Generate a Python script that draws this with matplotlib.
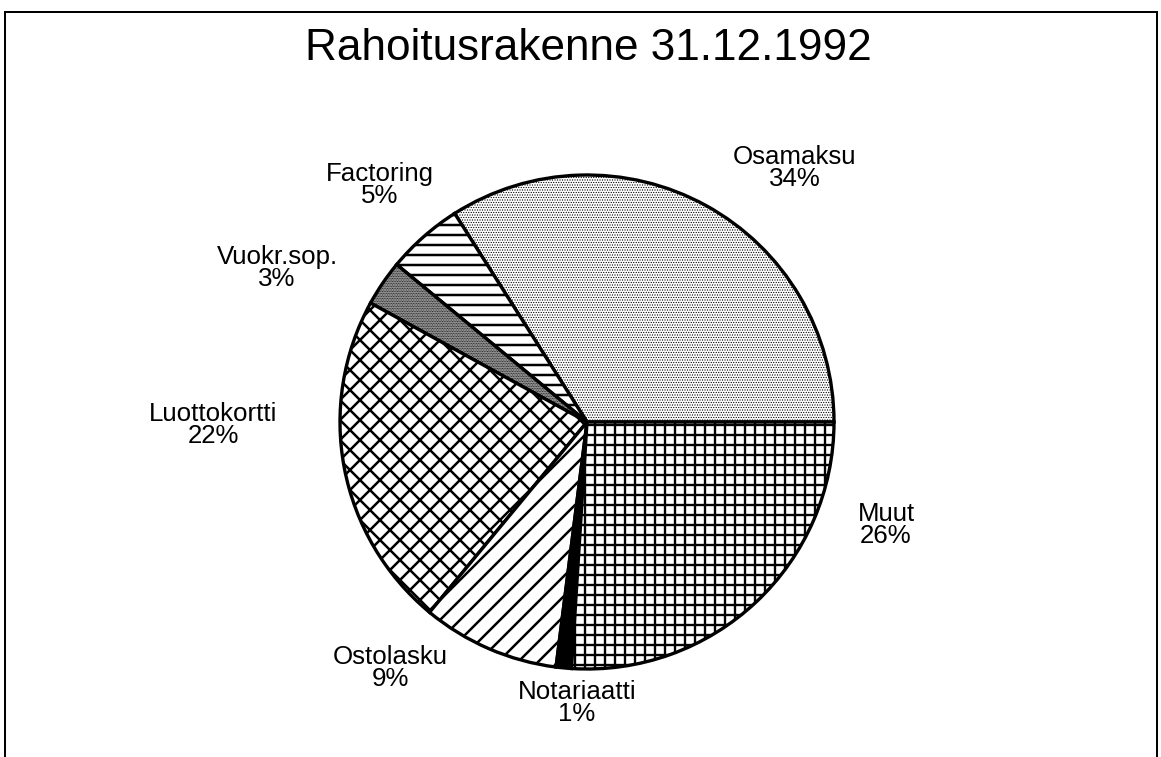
import matplotlib
matplotlib.use('Agg')
import matplotlib.pyplot as plt
from matplotlib.patches import Patch

# kuvan koko pikseleinä
W, H = 1161, 757
DPI = 60

# data
labels = ['Osamaksu', 'Factoring', 'Vuokr.sop.', 'Luottokortti', 'Ostolasku', 'Notariaatti', 'Muut']
shares = [34, 5, 3, 22, 9, 1, 26]
title = 'Rahoitusrakenne 31.12.1992'

# tyylit (rasterit)
has_hlw = hasattr(Patch, 'set_hatch_linewidth')
if has_hlw:
    hatches = ['....', '-', '......', 'x', '/', '', '+']
    faces = ['white', 'white', '#b0b0b0', 'white', 'white', 'black', 'white']
else:
    hatches = ['', '-', '', 'x', '/', '', '+']
    faces = ['#bdbdbd', 'white', '#7a7a7a', 'white', 'white', 'black', 'white']
hatch_lw = [0.9, 3.0, 1.0, 3.0, 3.0, 1.0, 2.8]

# tekstien paikat (pikseleinä, y ylhäältä)
label_pos = [(795, 168), (380, 185), (277, 268), (213, 425), (390, 668), (577, 703), (886, 525)]

plt.rcParams['font.family'] = ['Liberation Sans', 'DejaVu Sans']
plt.rcParams['hatch.linewidth'] = 3.0

fig = plt.figure(figsize=(W / DPI, H / DPI), dpi=DPI)
ax = fig.add_axes([0, 0, 1, 1])

wedges, _ = ax.pie(shares, startangle=0, counterclock=True,
                   center=(587, H - 422), radius=247, frame=True,
                   wedgeprops=dict(edgecolor='black', linewidth=4))
for w, h, fc, lw in zip(wedges, hatches, faces, hatch_lw):
    w.set_facecolor(fc)
    w.set_hatch(h)
    if has_hlw:
        w.set_hatch_linewidth(lw)
ax.set_xlim(0, W)
ax.set_ylim(0, H)
ax.set_aspect('equal')
ax.axis('off')

for lab, s, (x, y) in zip(labels, shares, label_pos):
    ax.text(x, H - y, f'{lab}\n{s}%', ha='center', va='center',
            fontsize=31, linespacing=0.85)

ax.text(588, H - 48, title, ha='center', va='center', fontsize=53)

# kehys
ax.plot([5, 5, 1157, 1157], [0, H - 12, H - 12, 0], color='black', linewidth=2.4,
        solid_joinstyle='miter', clip_on=False)

fig.savefig('out.png', dpi=DPI)
